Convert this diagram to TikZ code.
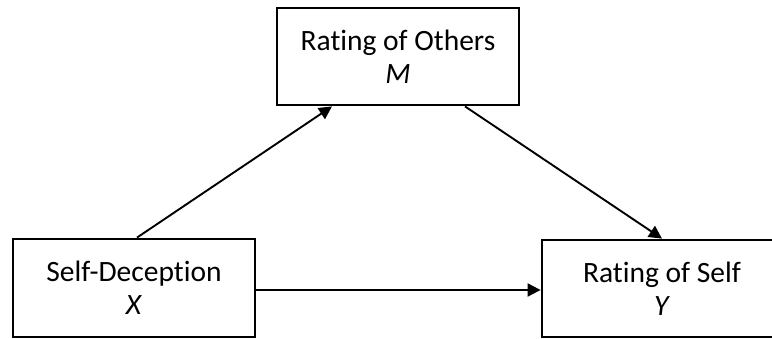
\documentclass[tikz,border=0pt]{standalone}
\usepackage{fontspec}
\setmainfont{Carlito}[Ligatures=NoCommon]
\usetikzlibrary{arrows.meta}
\tikzset{
  box/.style={draw, line width=2.8pt, fill=white, align=center, inner sep=0pt,
    font=\fontsize{29.5}{33}\selectfont},
  link/.style={line width=1.9pt, -{Triangle[length=13pt,width=13pt]}}
}
\begin{document}
\begin{tikzpicture}[x=1pt,y=1pt]
\useasboundingbox (0,0) rectangle (772,339);
\begin{scope}
\clip (0,0) rectangle (772,339);
\node[box, minimum width=242pt, minimum height=97pt] (M) at (398,282.5) {Rating of Others\\\textit{M}};
\node[box, minimum width=242pt, minimum height=98pt] (X) at (134,51) {Self-Deception\\\textit{X}};
\node[box, minimum width=240pt, minimum height=97pt] (Y) at (662,50.5) {Rating of Self\\\textit{Y}};
\draw[link] ([xshift=3pt]X.north) -- ([xshift=-66pt]M.south);
\draw[link] ([xshift=67pt]M.south) -- (Y.north);
\draw[link] ([yshift=-2pt]X.east) -- ([yshift=-2pt]X.east -| Y.west);
\end{scope}
\end{tikzpicture}
\end{document}
